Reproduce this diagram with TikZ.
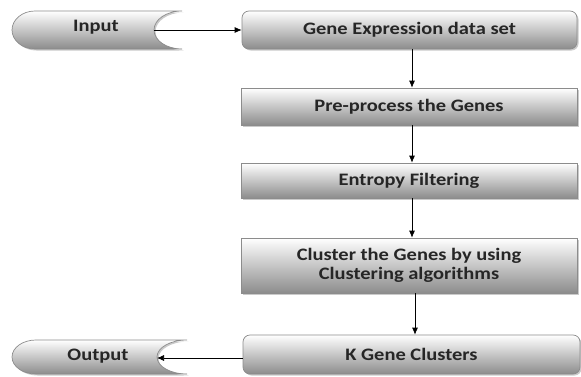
\documentclass[tikz,border=0pt]{standalone}
\usepackage{fontspec}
\setmainfont[FakeStretch=1.17]{Carlito}
\usetikzlibrary{shadows,arrows.meta}
\begin{document}
\begin{tikzpicture}[x=1pt,y=1pt,
  shade/.style={draw=black!45, line width=0.7pt, top color=white, bottom color=black!45,
    drop shadow={shadow xshift=1.5pt,shadow yshift=-1.5pt,opacity=0.35,fill=black!60}},
  box/.style={shade, font=\bfseries\fontsize{17.5}{19}\selectfont, text=black!85,
    inner sep=0pt, align=center},
  lbl/.style={font=\bfseries\fontsize{17.5}{19}\selectfont, text=black!85, inner sep=0pt},
  arr/.style={-{Latex[length=7pt,width=6pt]}, line width=0.7pt}
]
\useasboundingbox (0,0) rectangle (581,376);

% terminals
\path[shade] (182,365) -- (35,365) arc[start angle=90,end angle=270,x radius=23,y radius=19]
  -- (182,327) arc[start angle=-90,end angle=-270,x radius=28,y radius=19] -- cycle;
\coordinate (inN) at (154,346);
\node[lbl] (input) at (96,349) {Input};

\path[shade] (187,36) -- (36,36) arc[start angle=90,end angle=270,x radius=24,y radius=17]
  -- (187,2) arc[start angle=-90,end angle=-270,x radius=30,y radius=17] -- cycle;
\coordinate (outN) at (157,18);
\node[lbl] (output) at (98,20) {Output};

% process boxes
\node[box, rounded corners=7pt, minimum width=335, minimum height=38] (gene) at (409.5,346) {Gene Expression data set};
\node[box, minimum width=336, minimum height=37] (pre) at (409,269.5) {Pre-process the Genes};
\node[box, minimum width=336, minimum height=35] (ent) at (409,195.5) {Entropy Filtering};
\node[box, minimum width=336, minimum height=55] (clu) at (409,110.5) {Cluster the Genes by using\\Clustering algorithms};
\node[box, rounded corners=7pt, minimum width=337, minimum height=39] (kgc) at (411.5,21.5) {K Gene Clusters};

% connectors
\draw[arr] (inN) -- (gene.west);
\draw[arr] ([xshift=2.5pt]gene.south) -- ([xshift=2.5pt]gene.south |- pre.north);
\draw[arr] ([xshift=3pt]pre.south) -- ([xshift=3pt]pre.south |- ent.north);
\draw[arr] ([xshift=3pt]ent.south) -- ([xshift=3pt]ent.south |- clu.north);
\draw[arr] ([xshift=6pt]clu.south) -- ([xshift=6pt]clu.south |- kgc.north);
\draw[arr] (kgc.west |- outN) -- (outN);
\end{tikzpicture}
\end{document}
